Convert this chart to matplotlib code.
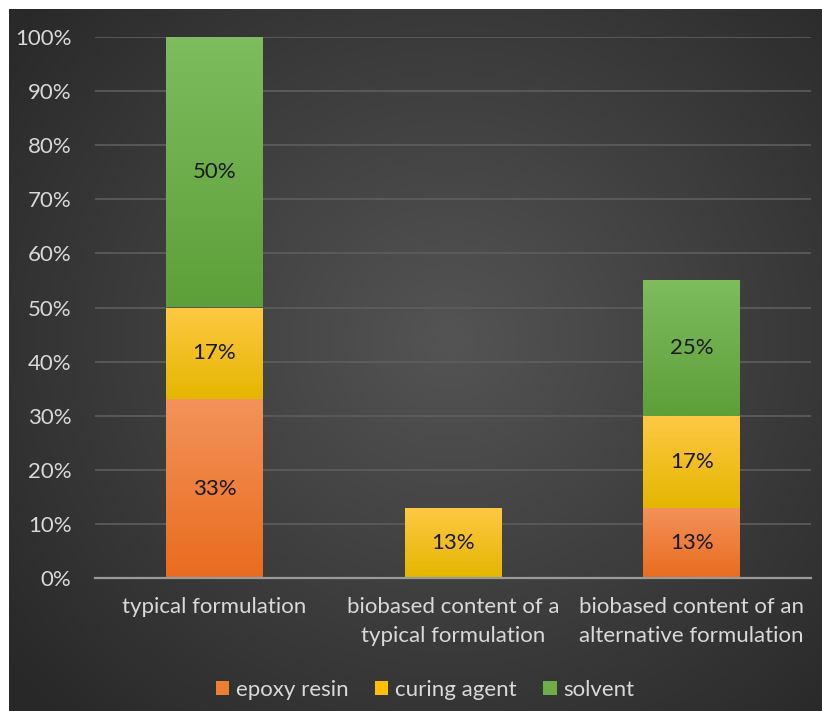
import numpy as np
import matplotlib
matplotlib.use("Agg")
import matplotlib.pyplot as plt
from matplotlib.colors import LinearSegmentedColormap
from matplotlib.patches import Patch

plt.rcParams['font.family'] = ['Lato', 'DejaVu Sans']

categories = ["typical formulation",
              "biobased content of a\ntypical formulation",
              "biobased content of an\nalternative formulation"]
series = ["epoxy resin", "curing agent", "solvent"]
epoxy_resin = [33, 0, 13]
curing_agent = [17, 13, 17]
solvent = [50, 0, 25]
yticks = [0, 10, 20, 30, 40, 50, 60, 70, 80, 90, 100]

# (top colour, bottom colour) of each series' vertical gradient
grad = {
    "epoxy resin": ("#f3925a", "#e96c1e"),
    "curing agent": ("#ffc844", "#e5b600"),
    "solvent": ("#7ebc5e", "#5d9f39"),
}
legend_col = {"epoxy resin": "#ed7d31", "curing agent": "#ffc000", "solvent": "#70ad47"}
fs = 16

fig = plt.figure(figsize=(8.22, 7.11), dpi=100)
fig.patch.set_facecolor("white")

# dark panel with a soft radial highlight
bg = fig.add_axes([9 / 822, 0, 813 / 822, 702 / 711])
h, w = 702, 813
yy, xx = np.mgrid[0:h, 0:w]
r = np.sqrt(((xx - 440) / 560) ** 2 + ((yy - 330) / 520) ** 2)
shade = np.clip(0.33 - 0.17 * r, 0.16, 0.33)
bg.imshow(np.dstack([shade] * 3), aspect="auto", interpolation="bilinear")
bg.set_axis_off()

ax = fig.add_axes([95 / 822, (711 - 578) / 711, 716 / 822, 541 / 711])
ax.set_facecolor("none")

x = np.arange(len(categories))
width = 0.406
bottom = np.zeros(len(categories))
for name, vals in zip(series, [epoxy_resin, curing_agent, solvent]):
    vals = np.array(vals, dtype=float)
    bars = ax.bar(x, vals, width, bottom=bottom, color="none", edgecolor="none", zorder=3)
    cmap = LinearSegmentedColormap.from_list(name, [grad[name][1], grad[name][0]])
    for b, v, b0 in zip(bars, vals, bottom):
        if v <= 0:
            continue
        img = ax.imshow(np.linspace(0, 1, 64).reshape(-1, 1), cmap=cmap, origin="lower",
                        extent=[b.get_x(), b.get_x() + b.get_width(), b0, b0 + v],
                        aspect="auto", zorder=3)
        img.set_clip_path(b)
        ax.text(b.get_x() + b.get_width() / 2, b0 + v / 2, f"{v:.0f}%",
                ha="center", va="center", fontsize=fs, color="#1a1a1a", zorder=4)
    bottom += vals

ax.set_xlim(-0.5, 2.5)
ax.set_ylim(0, 100)
ax.set_yticks(yticks)
ax.set_yticklabels([f"{t}%" for t in yticks])
ax.set_xticks(x)
ax.set_xticklabels(categories, linespacing=1.55)
ax.tick_params(axis="both", length=0, colors="#d9d9d9", labelsize=fs)
ax.tick_params(axis="y", pad=17)
ax.tick_params(axis="x", pad=14)
ax.yaxis.grid(True, color="#5e5e5e", linewidth=1.2, zorder=0)
ax.set_axisbelow(True)
for s in ["top", "right", "left"]:
    ax.spines[s].set_visible(False)
ax.spines["bottom"].set_color("#9a9a9a")
ax.spines["bottom"].set_linewidth(1.6)
ax.spines["bottom"].set_zorder(5)

handles = [Patch(facecolor=legend_col[n], edgecolor="none", label=n) for n in series]
fig.legend(handles=handles, loc="center", bbox_to_anchor=(425 / 822, 21 / 711), ncol=3,
           frameon=False, fontsize=fs, labelcolor="#d9d9d9", handlelength=0.6,
           handleheight=0.6, handletextpad=0.3, columnspacing=1.2)

fig.savefig("out.png", dpi=100)
